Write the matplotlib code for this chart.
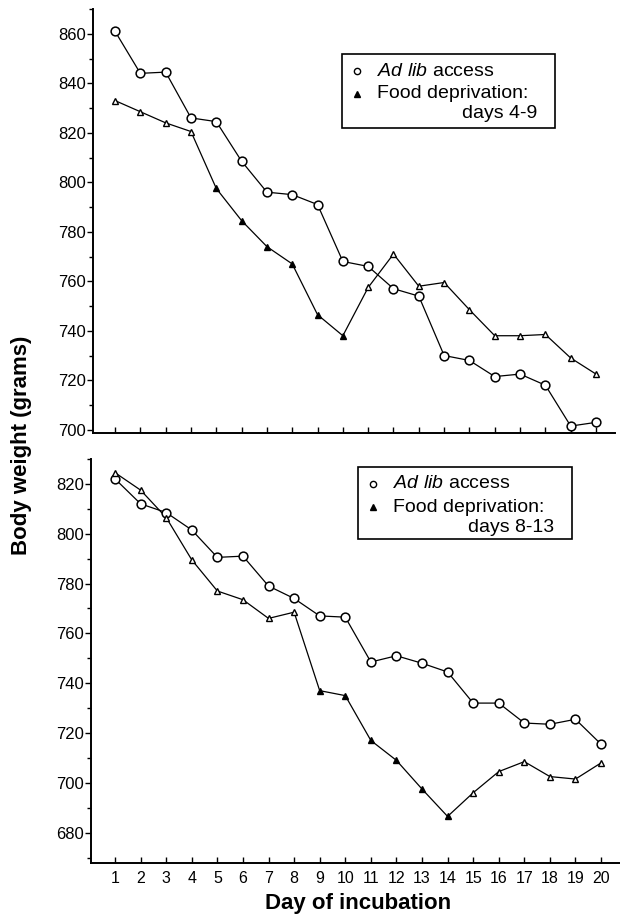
import numpy as np
import matplotlib
matplotlib.use('Agg')
from matplotlib import pyplot as plt
from matplotlib.lines import Line2D
from matplotlib.patches import Rectangle
from matplotlib.ticker import MultipleLocator

plt.rcParams['font.family'] = ['Liberation Sans', 'DejaVu Sans']
plt.rcParams['mathtext.fontset'] = 'custom'
plt.rcParams['mathtext.rm'] = 'Liberation Sans'
plt.rcParams['mathtext.it'] = 'Liberation Sans:italic'

# data
days = np.arange(1, 21)

adlib_top = [861, 844, 844.5, 826, 824.5, 808.5, 796, 795, 791, 768,
             766, 757, 754, 730, 728, 721.5, 722.5, 718, 701.5, 703]
deprived_top = [833, 828.5, 824, 820.5, 797.5, 784.5, 774, 767, 746.5, 738,
                757.5, 771, 758, 759.5, 748.5, 738, 738, 738.5, 729, 722.5]
deprived_top_days = [5, 6, 7, 8, 9, 10]   # filled triangles

adlib_bot = [822, 812, 808.5, 801.5, 790.5, 791, 779, 774, 767, 766.5,
             748.5, 751, 748, 744.5, 732, 732, 724, 723.5, 725.5, 715.5]
deprived_bot = [824.5, 817.5, 806.5, 789.5, 777, 773.5, 766, 768.5, 737, 735,
                717, 709, 697.5, 686.5, 696, 704.5, 708.5, 702.5, 701.5, 708]
deprived_bot_days = [9, 10, 11, 12, 13, 14]

legend_top = ['$\\mathit{Ad\\ lib}$ access', 'Food deprivation:', 'days 4-9']
legend_bot = ['$\\mathit{Ad\\ lib}$ access', 'Food deprivation:', 'days 8-13']

W, H = 620, 914
fig = plt.figure(figsize=(W / 100, H / 100), dpi=100)


def fx(px):
    return px / W


def fy(py):
    return 1 - py / H


def panel(rect, adlib, dep, dep_days, ylim, xlim, labels):
    ax = fig.add_axes(rect)
    filled = np.isin(days, dep_days)
    dep = np.array(dep)
    ax.plot(days, adlib, '-', color='k', lw=0.9, zorder=2)
    ax.plot(days, dep, '-', color='k', lw=0.9, zorder=2)
    ax.plot(days, adlib, 'o', ms=6.3, mfc='white', mec='k', mew=1.1, ls='none', zorder=3)
    ax.plot(days[~filled], dep[~filled], '^', ms=5, mfc='white', mec='k', mew=1.0, ls='none', zorder=3)
    ax.plot(days[filled], dep[filled], '^', ms=5, mfc='k', mec='k', mew=1.0, ls='none', zorder=3)
    ax.set_xlim(*xlim)
    ax.set_ylim(*ylim)
    ax.set_xticks(days)
    ax.yaxis.set_major_locator(MultipleLocator(20))
    ax.yaxis.set_minor_locator(MultipleLocator(10))
    for s in ['top', 'right']:
        ax.spines[s].set_visible(False)
    for s in ['left', 'bottom']:
        ax.spines[s].set_linewidth(1.4)
    ax.tick_params(axis='y', which='major', direction='out', length=4, width=1, pad=1, labelsize=12)
    ax.tick_params(axis='y', which='minor', direction='out', length=3, width=1)
    ax.tick_params(axis='x', direction='in', length=4, width=1, pad=6, labelsize=11.5)
    if not labels:
        ax.set_xticklabels([])
    return ax


ax1 = panel([fx(93), fy(433), fx(615) - fx(93), fy(9) - fy(433)],
            adlib_top, deprived_top, deprived_top_days, (698.7, 870), (0.13, 20.75), False)
ax2 = panel([fx(91), fy(863), fx(620) - fx(91), fy(459) - fy(863)],
            adlib_bot, deprived_bot, deprived_bot_days, (667.8, 830), (0.06, 20.74), True)


def legend_box(x0, y0, x1, y1, texts):
    fig.add_artist(Rectangle((fx(x0), fy(y1)), fx(x1) - fx(x0), fy(y0) - fy(y1),
                             transform=fig.transFigure, fill=False, ec='k', lw=1.2))
    mx = x0 + 15
    tx = x0 + 35
    fig.add_artist(Line2D([fx(mx)], [fy(y0 + 17)], transform=fig.transFigure, marker='o',
                          ms=4.5, mfc='white', mec='k', mew=1.0))
    fig.add_artist(Line2D([fx(mx)], [fy(y0 + 40)], transform=fig.transFigure, marker='^',
                          ms=4.5, mfc='k', mec='k'))
    fig.text(fx(tx), fy(y0 + 17), texts[0], fontsize=14, va='center', ha='left')
    fig.text(fx(tx), fy(y0 + 40), texts[1], fontsize=14, va='center', ha='left')
    fig.text(fx(x1 - 18), fy(y0 + 60), texts[2], fontsize=14, va='center', ha='right')


legend_box(342, 54, 555, 128, legend_top)
legend_box(358, 467, 572, 539, legend_bot)

fig.text(fx(358), fy(903), 'Day of incubation', fontsize=16, fontweight='bold',
         ha='center', va='center')
fig.text(fx(22), fy(445), 'Body weight (grams)', fontsize=16, fontweight='bold',
         ha='center', va='center', rotation=90)

fig.savefig('out.png', dpi=100)
